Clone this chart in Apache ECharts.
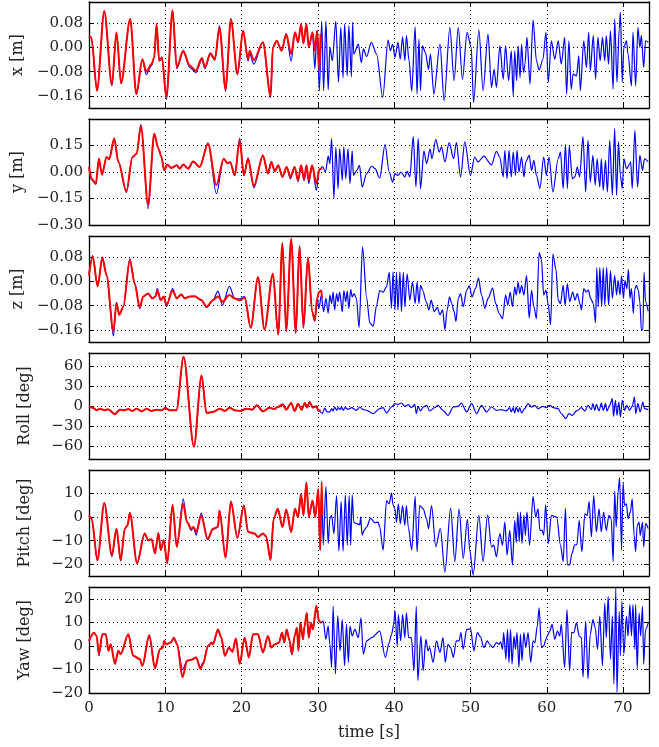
<!DOCTYPE html>
<html>
<head>
<meta charset="utf-8">
<script src="https://cdn.jsdelivr.net/npm/echarts@6/dist/echarts.min.js"></script>
<style>
html,body{margin:0;padding:0;background:#fff;}
#chart{width:659px;height:747px;}
</style>
</head>
<body>
<div id="chart"></div>
<script>
// ---- tick labels ----
const timeTicks = [0, 10, 20, 30, 40, 50, 60, 70];
const xTicks = [-0.16, -0.08, 0, 0.08];
const yTicks = [-0.30, -0.15, 0, 0.15];
const zTicks = [-0.16, -0.08, 0, 0.08];
const rollTicks = [-60, -30, 0, 30, 60];
const pitchTicks = [-20, -10, 0, 10];
const yawTicks = [-20, -10, 0, 10, 20];
const axisNames = ['x [m]', 'y [m]', 'z [m]', 'Roll [deg]', 'Pitch [deg]', 'Yaw [deg]'];

// ---- x [m] ----
const xRed = [[0,0.038],[0.3,0.033],[1.05,-0.143],[2.0,0.12],[3.0,-0.124],[3.6,0.05],[4.2,-0.118],[5.4,0.094],[6.2,-0.154],[7.0,-0.039],[7.5,-0.08],[8.2,-0.055],[8.55,-0.033],[8.85,0.077],[9.2,-0.044],[9.55,-0.033],[10.15,-0.165],[10.95,0.123],[11.5,-0.066],[12.35,-0.011],[13.2,-0.06],[14.0,-0.077],[14.8,-0.035],[15.2,-0.066],[15.9,-0.019],[16.5,-0.039],[17.1,0.066],[17.9,-0.138],[18.6,0.094],[19.45,-0.088],[20.2,0.055],[20.85,-0.039],[21.05,-0.011],[21.6,-0.042],[22.8,0.017],[23.8,-0.16],[24.1,0],[24.6,0.022],[25.25,-0.011],[25.85,0.044],[26.5,-0.022],[27.0,0.05],[27.4,0.017],[27.8,0.077],[28.1,0.013],[28.5,0.077],[28.8,0],[29.3,0.05],[29.6,-0.011],[29.9,0.055],[30.2,-0.077],[30.35,0.044]];
const xBlue = [[0,0.038],[0.3,0.033],[1.05,-0.143],[2.0,0.12],[3.0,-0.126],[3.6,0.05],[4.2,-0.12],[5.4,0.094],[6.2,-0.156],[7.0,-0.039],[7.5,-0.09],[8.2,-0.06],[8.55,-0.033],[8.85,0.077],[9.2,-0.044],[9.55,-0.033],[10.15,-0.172],[10.95,0.123],[11.5,-0.07],[12.35,-0.015],[13.2,-0.066],[14.0,-0.083],[14.8,-0.04],[15.2,-0.07],[15.9,-0.022],[16.5,-0.042],[17.1,0.072],[17.9,-0.145],[18.6,0.094],[19.45,-0.09],[20.2,0.055],[20.85,-0.045],[21.05,-0.02],[21.6,-0.055],[22.8,0.017],[23.8,-0.166],[24.1,0],[24.6,0.022],[25.25,-0.011],[25.85,0.044],[26.5,-0.045],[27.0,0.05],[27.4,0.017],[27.8,0.077],[28.1,0.013],[28.5,0.077],[28.8,0],[29.3,0.05],[29.6,-0.07],[29.9,0.057],[30.2,-0.143],[30.5,0.086],[30.75,-0.143],[31.05,0.086],[31.35,-0.14],[31.57,0],[31.9,-0.044],[32.35,0.086],[32.7,-0.115],[33.0,0.066],[33.3,-0.1],[33.5,0.077],[33.85,-0.094],[34.05,0.072],[34.4,-0.097],[34.55,0.083],[34.7,-0.022],[35.3,0.011],[35.7,-0.05],[35.95,-0.005],[36.4,-0.03],[37.0,0.017],[37.7,-0.022],[38.5,-0.165],[39.2,0.024],[39.5,-0.011],[39.8,0.011],[40.1,-0.033],[40.5,0.017],[40.8,-0.039],[41.1,0.035],[41.4,-0.044],[41.6,0.039],[41.95,-0.044],[42.3,-0.145],[42.75,0.068],[43.0,-0.154],[43.25,0.028],[43.45,-0.143],[43.7,0.005],[44.1,-0.017],[44.5,-0.072],[44.75,-0.022],[45.2,-0.154],[46.0,0.011],[46.55,-0.176],[47.3,0.066],[47.85,-0.11],[48.4,0.066],[48.95,-0.105],[49.55,0.05],[50.1,0],[50.4,-0.182],[51.1,0.058],[51.65,-0.143],[52.3,0.044],[52.75,-0.132],[53.1,-0.072],[53.4,-0.132],[53.85,0.005],[54.3,-0.105],[54.6,0.005],[55.0,-0.11],[55.35,-0.011],[55.6,-0.16],[55.8,-0.011],[56.05,-0.11],[56.25,0.005],[56.5,-0.099],[56.7,0.011],[56.95,-0.083],[57.15,-0.055],[57.4,0.033],[57.8,-0.121],[58.2,0.09],[58.65,-0.044],[59.0,-0.075],[59.5,-0.039],[59.9,0.05],[60.2,-0.115],[60.6,0.022],[61.05,-0.039],[61.5,0.022],[61.9,-0.055],[62.35,0.033],[62.6,-0.154],[62.9,0.022],[63.2,-0.138],[63.45,-0.088],[63.9,-0.094],[64.2,-0.028],[64.4,-0.143],[64.85,0.022],[65.2,-0.066],[65.5,0.05],[65.7,-0.077],[66.1,0.039],[66.4,-0.105],[66.7,0.033],[67.0,-0.044],[67.3,0.033],[67.6,-0.044],[67.8,0.039],[68.1,-0.055],[68.35,0.055],[68.7,-0.138],[68.9,0.094],[69.2,-0.115],[69.5,0.061],[69.65,0.116],[69.9,-0.115],[70.1,0],[70.45,0.022],[70.65,-0.022],[71.1,-0.127],[71.3,0.05],[71.65,-0.127],[71.95,0.066],[72.2,0],[72.4,0.039],[72.7,-0.066],[72.95,0.022],[73.3,0.017]];

// ---- y [m] ----
const yRed = [[0,0.028],[0.35,-0.038],[0.9,-0.066],[1.3,0.075],[1.7,-0.015],[2.3,0.085],[2.65,0.072],[3.3,0.19],[3.85,0.057],[4.9,-0.109],[5.7,0.085],[6.25,0.104],[6.8,0.26],[7.75,-0.185],[8.55,0.217],[9.1,0.132],[9.5,0.085],[9.85,0.009],[10.25,0.042],[10.8,0.023],[11.5,0.038],[11.9,0.019],[12.35,0.042],[13.0,0.019],[13.65,0.06],[14.5,0.028],[15.6,0.16],[16.7,-0.075],[17.65,0.075],[18.15,0.05],[18.5,0.057],[19.1,-0.019],[19.75,0.18],[20.3,-0.019],[20.85,0.075],[21.6,-0.08],[22.8,0.094],[23.45,-0.009],[23.9,0.057],[24.35,0.004],[24.8,0.038],[25.35,-0.028],[25.9,0.028],[26.4,-0.028],[26.95,0.028],[27.4,-0.047],[27.8,0.038],[28.2,-0.042],[28.5,0.038],[28.8,-0.047],[29.25,0.038],[29.8,-0.066],[30.2,0.015],[30.55,0.019]];
const yBlue = [[0,0.028],[0.35,-0.045],[0.9,-0.07],[1.3,0.075],[1.7,-0.015],[2.3,0.085],[2.65,0.072],[3.3,0.19],[3.85,0.057],[4.9,-0.115],[5.7,0.085],[6.25,0.104],[6.8,0.27],[7.75,-0.208],[8.55,0.217],[9.1,0.132],[9.5,0.085],[9.85,0.009],[10.25,0.042],[10.8,0.023],[11.5,0.038],[11.9,0.019],[12.35,0.042],[13.0,0.019],[13.65,0.06],[14.5,0.028],[15.6,0.165],[16.7,-0.123],[17.65,0.075],[18.15,0.05],[18.5,0.057],[19.1,-0.019],[19.75,0.19],[20.3,-0.019],[20.85,0.08],[21.6,-0.09],[22.8,0.094],[23.45,-0.009],[23.9,0.057],[24.35,0.004],[24.8,0.038],[25.35,-0.028],[25.9,0.028],[26.4,-0.038],[26.95,0.028],[27.4,-0.055],[27.8,0.038],[28.2,-0.05],[28.5,0.038],[28.8,-0.065],[29.25,0.038],[29.8,-0.104],[30.2,0.015],[30.6,0.03],[31.0,0.0],[31.35,0.09],[31.57,0.047],[31.8,0.19],[32.1,-0.15],[32.35,0.14],[32.65,-0.094],[32.85,0.132],[33.2,-0.047],[33.4,0.142],[33.65,-0.038],[33.95,0.132],[34.2,-0.066],[34.5,0.12],[34.65,-0.019],[35.1,0.009],[35.45,0.038],[35.8,-0.085],[36.4,-0.009],[37.05,0.034],[37.5,0.019],[38.1,-0.034],[38.8,0.155],[39.35,0],[39.8,-0.057],[40.1,-0.009],[40.5,-0.019],[40.9,0],[41.4,-0.028],[41.7,0.004],[42.05,-0.028],[42.5,0.2],[42.85,-0.085],[43.15,0.19],[43.45,-0.094],[43.9,0.12],[44.25,0.047],[44.7,0.13],[44.95,0.075],[45.45,0.185],[45.9,0.113],[46.2,0.142],[46.65,0.057],[47.2,0.166],[47.8,0.075],[48.15,0.166],[48.7,-0.028],[49.25,0.17],[50.0,-0.019],[50.55,0.085],[51.0,0.057],[51.75,0.09],[52.75,0.04],[53.4,0.117],[53.85,0.085],[54.3,-0.028],[54.5,0.123],[54.8,-0.038],[55.05,0.123],[55.35,-0.028],[55.6,0.113],[55.9,-0.019],[56.1,0.123],[56.35,0],[56.7,0.085],[57.0,-0.028],[57.25,0.057],[57.7,0.094],[58.0,0.009],[58.3,0.066],[58.65,-0.019],[59.1,-0.094],[59.6,0.085],[59.95,-0.019],[60.3,0.085],[60.8,-0.113],[61.5,0.075],[61.8,0.113],[62.15,-0.094],[62.45,0.155],[62.7,-0.094],[62.95,0.15],[63.35,-0.038],[63.7,-0.028],[64.0,0.028],[64.3,-0.028],[64.75,0.2],[65.1,-0.113],[65.4,0.18],[65.7,-0.057],[66.05,0.094],[66.35,-0.075],[66.6,0.075],[66.95,-0.085],[67.15,0.075],[67.4,-0.104],[67.7,0.066],[67.95,-0.113],[68.25,0.18],[68.6,-0.132],[68.9,0.245],[69.15,-0.132],[69.4,0.17],[69.65,-0.019],[69.9,-0.094],[70.1,0.075],[70.45,0.019],[70.9,0.047],[71.0,0.057],[71.2,-0.094],[71.55,0.236],[71.9,-0.085],[72.2,0.094],[72.55,0.009],[72.8,0.075],[73.3,0.057]];

// ---- z [m] ----
const zRed = [[0,0.02],[0.48,0.082],[1.13,-0.016],[1.75,0.079],[2.3,0.02],[3.2,-0.164],[3.6,-0.072],[3.97,-0.11],[4.5,-0.083],[5.35,0.071],[6.0,-0.008],[6.65,-0.086],[7.1,-0.05],[7.75,-0.04],[8.3,-0.056],[8.7,-0.05],[8.95,-0.03],[9.4,-0.062],[9.8,-0.05],[10.15,-0.078],[10.95,-0.03],[11.5,-0.056],[12.1,-0.043],[12.55,-0.056],[13.2,-0.05],[13.85,-0.049],[14.75,-0.062],[15.4,-0.084],[16.25,-0.062],[16.9,-0.05],[17.5,-0.067],[18.4,-0.045],[19.1,-0.056],[19.75,-0.062],[20.4,-0.054],[21.2,-0.153],[22.15,0.014],[23.0,-0.159],[24.1,0.025],[24.8,-0.175],[25.35,0.127],[25.85,-0.164],[26.5,0.14],[27.1,-0.17],[27.6,0.117],[28.1,-0.153],[28.7,0.079],[29.25,-0.1],[29.6,-0.13],[29.9,-0.056],[30.15,-0.035],[30.45,-0.03],[30.55,-0.056]];
const zBlue = [[0,0.02],[0.48,0.085],[1.13,-0.016],[1.75,0.079],[2.3,0.02],[3.2,-0.18],[3.6,-0.068],[3.97,-0.11],[4.5,-0.083],[5.35,0.075],[6.0,-0.008],[6.65,-0.09],[7.1,-0.05],[7.75,-0.04],[8.3,-0.056],[8.7,-0.05],[8.95,-0.024],[9.4,-0.062],[9.8,-0.05],[10.15,-0.083],[10.95,-0.024],[11.5,-0.056],[12.1,-0.043],[12.55,-0.056],[13.2,-0.05],[13.85,-0.049],[14.75,-0.062],[15.4,-0.086],[16.25,-0.062],[16.9,-0.032],[17.5,-0.078],[18.4,-0.016],[19.1,-0.056],[19.75,-0.058],[20.4,-0.05],[21.2,-0.153],[22.15,0.014],[23.0,-0.159],[24.1,0.025],[24.8,-0.175],[25.35,0.127],[25.85,-0.164],[26.5,0.14],[27.1,-0.17],[27.6,0.117],[28.1,-0.153],[28.7,0.079],[29.25,-0.1],[29.6,-0.13],[29.9,-0.056],[30.15,-0.089],[30.45,-0.045],[30.75,-0.1],[31.05,-0.056],[31.35,-0.105],[31.57,-0.045],[31.8,-0.073],[32.0,-0.035],[32.2,-0.094],[32.45,-0.04],[32.65,-0.067],[32.85,-0.035],[33.2,-0.1],[33.4,-0.03],[33.65,-0.067],[33.85,-0.032],[34.05,-0.089],[34.3,-0.026],[34.5,-0.051],[34.75,-0.04],[35.05,-0.056],[35.4,-0.153],[35.85,0.114],[36.4,-0.056],[36.8,-0.137],[37.25,-0.148],[37.7,-0.078],[38.1,-0.03],[38.55,-0.035],[39.0,-0.018],[39.35,0.03],[39.65,-0.088],[39.85,0.032],[40.1,-0.094],[40.3,0.03],[40.5,-0.094],[40.75,0.032],[40.95,-0.099],[41.2,0.03],[41.4,-0.083],[41.7,0.025],[42.05,-0.062],[42.4,-0.002],[42.75,-0.073],[43.0,-0.002],[43.25,-0.073],[43.45,-0.013],[43.75,-0.03],[44.2,-0.067],[44.55,-0.094],[44.85,-0.062],[45.25,-0.1],[45.65,-0.086],[46.0,-0.11],[46.35,-0.094],[46.65,-0.159],[46.95,-0.094],[47.25,-0.051],[47.55,-0.073],[47.85,-0.1],[48.1,-0.132],[48.4,-0.056],[48.7,-0.04],[49.05,-0.083],[49.5,-0.029],[49.85,-0.015],[50.2,-0.051],[50.65,-0.024],[51.05,0.011],[51.45,-0.045],[51.9,-0.089],[52.3,-0.056],[52.9,-0.022],[53.3,-0.073],[53.75,-0.105],[54.2,-0.123],[54.6,-0.045],[54.9,-0.078],[55.2,-0.035],[55.5,-0.083],[55.8,-0.018],[56.0,-0.045],[56.25,-0.002],[56.45,-0.04],[56.7,-0.013],[57.0,-0.045],[57.35,0.019],[57.7,-0.121],[58.0,-0.029],[58.3,-0.083],[58.65,-0.123],[59.0,0.095],[59.3,0.073],[59.6,-0.045],[59.9,-0.029],[60.2,-0.078],[60.5,-0.143],[60.8,0.09],[61.2,0.041],[61.5,-0.062],[61.8,-0.073],[62.15,-0.013],[62.4,-0.078],[62.7,-0.008],[63.0,-0.067],[63.4,-0.035],[63.7,-0.062],[64.0,-0.04],[64.35,-0.073],[64.55,-0.094],[64.85,-0.024],[65.15,-0.035],[65.45,-0.029],[65.75,-0.056],[66.1,-0.073],[66.4,-0.137],[66.55,0.046],[66.75,-0.083],[66.95,0.046],[67.2,-0.083],[67.4,0.046],[67.6,-0.078],[67.85,0.046],[68.1,-0.078],[68.35,0.035],[68.6,-0.056],[68.9,0.019],[69.15,-0.045],[69.35,0.003],[69.6,-0.045],[69.8,0.019],[70.05,-0.056],[70.25,0.003],[70.5,-0.024],[70.7,0.04],[70.9,-0.056],[71.1,-0.024],[71.35,-0.105],[71.55,-0.024],[71.75,-0.013],[72.0,-0.029],[72.2,-0.067],[72.4,-0.159],[72.6,-0.159],[72.75,0.03],[72.95,-0.067],[73.3,-0.099]];

// ---- Roll [deg] ----
const rollRed = [[0,-1.5],[0.5,-2.5],[1.0,-6.5],[1.45,-4],[2.0,-6.5],[2.5,-5],[3.4,-12.5],[4.05,-5.5],[4.6,-6.5],[5.15,-4.5],[5.7,-7.5],[6.25,-4],[6.9,-8],[7.55,-4],[8.2,-7.5],[8.85,-5.5],[9.5,-6.5],[10.0,-3],[10.6,-6.5],[11.45,-6.5],[12.4,74.5],[13.75,-61.5],[14.75,46],[15.4,-10.5],[16.25,-9],[17.15,-4],[17.8,-7.5],[18.45,-2.5],[19.1,-6.5],[19.85,-7.5],[20.6,-4],[21.4,-5.5],[22.0,1],[22.8,-8],[23.65,-2.5],[24.3,-4.5],[24.75,-1.5],[25.4,2.5],[25.85,-5.5],[26.5,4.5],[26.95,-7.5],[27.4,3.5],[27.85,-5.5],[28.3,4.5],[28.6,-2.5],[28.9,6],[29.35,-2.5],[29.8,-0.5],[30.1,-7.5],[30.35,-5.5]];
const rollBlue = [[0,-1.5],[0.5,-2.5],[1.0,-6],[1.45,-4],[2.0,-6.5],[2.5,-5],[3.4,-11.5],[4.05,-5.5],[4.6,-6.5],[5.15,-4.5],[5.7,-7.5],[6.25,-4],[6.9,-8],[7.55,-4],[8.2,-7.5],[8.85,-5.5],[9.5,-6.5],[10.0,-3],[10.6,-6.5],[11.45,-6.5],[12.4,74.5],[13.75,-61.5],[14.75,46],[15.4,-10.5],[16.25,-9],[17.15,-4],[17.8,-7.5],[18.45,-2.5],[19.1,-6.5],[19.85,-7.5],[20.6,-4],[21.4,-5.5],[22.0,1],[22.8,-8],[23.65,-2.5],[24.3,-4.5],[24.75,-1.5],[25.4,2.5],[25.85,-5.5],[26.5,4.5],[26.95,-7.5],[27.4,3.5],[27.85,-5.5],[28.3,4.5],[28.6,-2.5],[28.9,6],[29.35,-2.5],[29.8,-0.5],[30.1,-7.5],[30.6,-11],[30.9,-3],[31.2,-9],[31.57,-9],[31.8,-4],[32.0,-7.5],[32.2,-1.5],[32.45,-6.5],[32.65,-2.5],[32.9,-5.5],[33.1,-1.5],[33.3,-6.5],[33.55,-2.5],[34.0,-5],[34.4,-2.5],[35.05,-6.5],[35.5,-1.5],[35.95,-5.5],[36.4,-6.5],[37.25,-11.5],[38.1,-4],[38.55,-2.5],[39.0,-10.5],[39.65,-1.5],[40.1,3.5],[40.5,2.5],[40.95,4.5],[41.4,-0.5],[41.85,2],[42.25,-2.5],[42.7,2.5],[42.9,-11.5],[43.15,-0.5],[43.45,-7.5],[43.8,-1.5],[44.25,1],[44.65,-7.5],[45.3,-2.5],[45.75,1],[46.4,-6.5],[47.05,-14],[47.75,-1.5],[48.4,-0.5],[48.8,4.5],[49.5,-9],[50.15,3.5],[50.8,-11.5],[51.45,1],[52.1,-9],[52.75,-1.5],[53.4,-6.5],[54.05,-5.5],[54.7,-7.5],[55.15,-2.5],[55.35,-9],[55.6,-2.5],[55.8,-10.5],[56.0,-1.5],[56.25,-9],[56.45,-2.5],[56.7,-10.5],[57.1,-4],[57.55,3.5],[58.0,-1.5],[58.4,1],[58.85,-4],[59.5,-0.5],[59.95,-2.5],[60.4,1],[60.85,-2.5],[61.5,-4],[61.9,-11.5],[62.5,-19],[62.9,-11.5],[63.35,-14],[63.9,-7.5],[64.55,-2.5],[65.0,-7.5],[65.4,1],[65.85,-5.5],[66.05,3.5],[66.3,-6.5],[66.5,2.5],[66.85,-7.5],[67.15,4.5],[67.4,-6.5],[67.7,3.5],[67.9,-7.5],[68.25,1],[68.6,11],[68.75,-15.5],[69.0,8.5],[69.2,-14],[69.45,6],[69.65,-16.5],[69.9,8.5],[70.2,-6.5],[70.5,1],[70.85,-6.5],[71.2,-0.5],[71.5,13.5],[71.65,-11.5],[71.95,3.5],[72.25,-9],[72.6,6],[72.8,-4],[73.3,-5.5]];

// ---- Pitch [deg] ----
const pitchRed = [[0,0.7],[0.35,-0.7],[1.1,-18.2],[2.0,6],[3.0,-16.1],[3.6,-4.9],[4.15,-18.2],[4.7,-4.9],[5.05,-3.5],[5.35,1.8],[6.3,-19.6],[7.3,-7],[7.75,-9.8],[8.2,-9.4],[8.65,-15.4],[9.1,-6.7],[9.4,-14],[9.8,-9.8],[10.25,-19.6],[10.95,5.2],[11.5,-12.6],[12.35,5.6],[12.85,-2.1],[13.4,-4.9],[13.7,-4.2],[14.05,-6.3],[14.7,0.7],[15.55,-9.4],[16.25,-4.9],[16.9,-4.2],[17.1,2.8],[17.9,-17.2],[18.6,6.6],[19.45,-8.8],[20.3,4.9],[20.85,-6.3],[21.7,-7],[22.15,-8.4],[22.8,-7],[23.2,-8],[23.8,-18.2],[24.2,-0.7],[24.75,3.5],[25.35,-4.2],[25.85,3.2],[26.5,-6.3],[27.0,3.5],[27.4,0],[27.8,9.8],[28.1,0.7],[28.5,14.7],[28.8,0],[29.3,7],[29.65,0],[30.05,11.9],[30.3,-14],[30.5,15],[30.6,0.7]];
const pitchBlue = [[0,0.7],[0.35,-0.7],[1.1,-18.6],[2.0,6],[3.0,-16.8],[3.6,-4.9],[4.15,-18.6],[4.7,-4.9],[5.05,-3.5],[5.35,1.8],[6.3,-19.6],[7.3,-7],[7.75,-9.8],[8.2,-9.4],[8.65,-15.4],[9.1,-6.7],[9.4,-14],[9.8,-9.8],[10.25,-19.6],[10.95,5.2],[11.5,-12.6],[12.35,7.7],[12.85,-2.1],[13.4,-5.6],[13.7,-4.2],[14.05,-7.7],[14.7,1.7],[15.55,-9.4],[16.25,-5.3],[16.9,-4.2],[17.1,2.8],[17.9,-17.2],[18.6,6.6],[19.45,-8.8],[20.3,4.9],[20.85,-6.3],[21.7,-7],[22.15,-8.4],[22.8,-7],[23.2,-8.4],[23.8,-18.2],[24.2,-0.7],[24.75,3.5],[25.35,-4.2],[25.85,3.2],[26.5,-6.3],[27.0,3.5],[27.4,0],[27.8,9.8],[28.1,0.7],[28.5,14.7],[28.8,0],[29.3,7],[29.65,0],[30.05,11.9],[30.3,-14],[30.5,13],[30.7,-11.9],[31.05,13],[31.35,-11.2],[31.57,-0.7],[31.8,0.7],[32.1,-7],[32.45,9.1],[32.75,-14.4],[33.05,6.6],[33.3,-14.4],[33.6,9.4],[33.85,-11.9],[34.1,9.1],[34.3,-11.9],[34.5,9.4],[34.7,-2.1],[35.05,-2.8],[35.5,-3.2],[35.6,0],[35.8,-7.7],[36.05,-5.6],[36.4,-4.2],[36.9,-0.4],[37.45,-2.4],[37.9,-2.1],[38.1,-4.2],[38.55,-14],[39.0,7],[39.35,5.6],[39.65,10.2],[39.85,5.2],[40.1,3.5],[40.3,-2.1],[40.55,5.6],[40.8,-2.8],[41.1,4.9],[41.4,-3.5],[41.6,4.9],[41.85,-4.2],[42.3,-14],[42.75,8.8],[43.0,-14.7],[43.35,4.9],[43.8,3.5],[44.25,-0.7],[44.5,-4.9],[44.9,4.9],[45.45,-12.6],[46.05,-4.9],[46.65,-23.4],[47.4,3.8],[47.95,-18.9],[48.5,3.5],[49.05,-17.5],[49.6,-1],[49.9,-14],[50.35,-24.5],[51.1,0.7],[51.65,-18.9],[52.25,1],[52.75,-12.6],[53.05,-11.9],[53.4,-16.8],[53.85,-7],[54.2,-11.9],[54.5,-2.1],[54.8,-16.1],[55.15,-5.6],[55.5,-20.3],[55.8,-1.4],[56.0,-10.8],[56.2,2.1],[56.4,-10.5],[56.55,2.1],[56.75,-11.2],[57.0,0.7],[57.2,-7.7],[57.4,2.1],[57.75,-11.9],[58.2,8.8],[58.55,0],[58.85,3.5],[59.1,-5.6],[59.4,-5.6],[59.6,-7.7],[59.85,5.2],[60.2,-11.2],[60.6,0.7],[61.3,0],[61.8,-11.9],[62.15,-18.9],[62.45,3.8],[62.7,-20.3],[63.0,-20.3],[63.3,-15.4],[63.65,-11.9],[63.95,-11.6],[64.25,-1.4],[64.6,-14.7],[65.0,1.4],[65.3,0.7],[65.55,6.6],[65.85,-8.4],[66.15,9.1],[66.5,-6.3],[66.85,3.5],[67.15,-6.3],[67.45,2.1],[67.8,-5.6],[68.15,0.7],[68.45,-0.7],[68.7,-18.9],[68.9,11.2],[69.1,-4.2],[69.35,10.8],[69.55,16.8],[69.8,-14],[70.0,14.7],[70.2,4.9],[70.45,5.6],[70.65,-0.7],[70.95,2.1],[71.2,7.7],[71.45,-7.7],[71.65,-14.7],[71.85,-3.5],[72.1,-2.1],[72.25,-7.7],[72.55,-2.1],[72.7,-12.6],[72.95,-2.8],[73.3,-4.9]];

// ---- Yaw [deg] ----
const yawRed = [[0,2.1],[0.65,5.6],[1.0,4.2],[1.3,-3.5],[1.75,4.9],[2.2,4.9],[2.55,-2.1],[2.85,0.7],[3.4,-7.7],[3.85,-2.1],[4.15,-3.5],[5.15,4.9],[5.8,-4.2],[6.65,-5.6],[7.0,-8.4],[7.9,4.5],[8.65,-9.5],[9.3,-1.4],[9.7,-0.7],[9.85,2.1],[10.15,0.7],[10.45,1.1],[10.8,1.7],[11.1,3.5],[11.55,0.7],[12.25,-13.3],[12.85,-6.3],[13.4,-5.9],[14.05,-4.9],[14.6,-9.8],[14.95,-7.7],[15.6,0],[15.9,0.7],[16.05,1.4],[16.25,0.7],[16.9,7],[17.35,3.5],[17.8,-4.2],[18.35,-0.7],[18.8,-2.5],[19.25,3.1],[19.75,-7.7],[20.4,3.5],[20.95,-4.9],[21.5,4.9],[22.15,4.9],[22.8,-2.8],[23.45,4.2],[23.9,-0.7],[24.35,0.7],[24.9,1.4],[25.3,5.6],[25.6,1.4],[25.9,7],[26.3,2.1],[26.6,-3.5],[26.95,4.2],[27.25,7.7],[27.45,-2.1],[27.7,9.8],[28.05,2.8],[28.25,8.4],[28.55,14],[28.8,3.5],[29.1,9.8],[29.35,7],[29.8,17],[30.15,10.5],[30.45,9.8]];
const yawBlue = [[0,2.1],[0.65,5.6],[1.0,4.2],[1.3,-4.2],[1.75,4.9],[2.2,4.9],[2.55,-2.1],[2.85,0.7],[3.4,-7.2],[3.85,-2.1],[4.15,-3.5],[5.15,4.9],[5.8,-4.2],[6.65,-5.6],[7.0,-8.4],[7.9,4.5],[8.65,-9.5],[9.3,-1.4],[9.7,-0.7],[9.85,2.1],[10.15,0.7],[10.45,1.1],[10.8,1.7],[11.1,3.5],[11.55,0.7],[12.25,-10],[12.85,-6.3],[13.4,-5.9],[14.05,-4.9],[14.6,-9],[14.95,-7],[15.6,0],[15.9,0.7],[16.05,1.4],[16.25,0.7],[16.9,6.5],[17.35,3.5],[17.8,-4.2],[18.35,-0.7],[18.8,-2.5],[19.25,3.1],[19.75,-7.2],[20.4,3.5],[20.95,-4.9],[21.5,4.9],[22.15,4.9],[22.8,-2.8],[23.45,4.2],[23.9,-0.7],[24.35,0.7],[24.9,1.4],[25.3,5.6],[25.6,1.4],[25.9,7],[26.3,2.1],[26.6,-3.8],[26.95,4.2],[27.25,7.7],[27.45,-2.1],[27.7,9.8],[28.05,2.8],[28.25,8.4],[28.55,14],[28.8,3.5],[29.1,9.8],[29.35,7],[29.8,16],[30.15,10.5],[30.45,9.8],[30.7,10.5],[31.05,2.8],[31.35,8.4],[31.57,0.7],[31.8,-9.1],[32.0,16.8],[32.3,-11.9],[32.6,12.9],[32.9,-2.1],[33.2,11.2],[33.5,-8.4],[33.75,9.1],[34.0,-7],[34.2,8.4],[34.5,4.2],[34.85,7],[35.3,3.5],[35.65,11.9],[35.95,-3.5],[36.4,2.1],[37.05,3.5],[38.1,6.3],[38.85,-4.9],[39.35,1.4],[39.65,4.9],[39.95,9.1],[40.1,15.1],[40.4,0],[40.55,13.3],[40.85,2.1],[41.1,13.3],[41.4,3.5],[41.6,14],[41.9,3.5],[42.25,3.5],[42.6,-10.5],[42.9,16.8],[43.1,-14.7],[43.5,4.2],[43.8,-10.5],[44.15,2.8],[44.45,-2.1],[44.65,-0.7],[45.1,-7],[45.55,2.1],[46.0,-2.8],[46.4,3.5],[46.7,-7],[47.05,0.7],[47.4,-0.7],[47.75,-4.9],[48.15,2.1],[48.5,2.1],[48.75,5.6],[49.05,-1.4],[49.5,7],[49.8,7],[50.0,7.3],[50.45,-2.1],[50.9,5.6],[51.3,3.9],[51.75,-0.7],[52.2,2.1],[52.5,0.7],[52.95,-0.7],[53.4,1.4],[53.75,0.7],[53.95,1.7],[54.2,-1.4],[54.35,5.6],[54.65,-5.6],[54.85,7],[55.05,-7],[55.25,7],[55.45,-7.7],[55.7,4.2],[55.9,-1.4],[56.1,5.6],[56.35,-9.1],[56.55,4.9],[56.75,-6.3],[57.0,5.6],[57.25,-0.7],[57.55,5.6],[57.9,-7],[58.2,2.1],[58.45,1.4],[58.75,8.4],[59.0,16.1],[59.3,-0.7],[59.6,0],[59.9,2.8],[60.05,4.2],[60.4,6.3],[60.7,9.1],[61.05,2.8],[61.4,6.3],[61.7,4.2],[61.9,9.1],[62.35,-9.1],[62.65,15.4],[63.0,-10.5],[63.25,5.6],[63.55,5.6],[63.9,9.8],[64.25,4.2],[64.55,3.5],[64.75,-13.3],[65.1,10.5],[65.4,-14],[65.7,4.9],[66.05,11.2],[66.35,7.7],[66.65,-1.4],[66.95,12.6],[67.3,-8.4],[67.6,18.2],[67.8,3.5],[68.05,21],[68.35,-5.6],[68.6,12.6],[68.8,-16.1],[69.05,24.5],[69.2,-19.6],[69.5,14.7],[69.65,-4.2],[69.85,18.9],[70.1,-3.5],[70.45,12.6],[70.65,4.2],[70.9,17.5],[71.1,4.2],[71.3,17.5],[71.55,-1.4],[71.65,17.5],[71.85,-9.8],[72.1,14],[72.3,4.2],[72.55,16.8],[72.7,-7.7],[72.95,7],[73.3,9.8]];

// ---- build chart ----
const FONT = 'DejaVu Serif';
const panels = [
  {blue: xBlue, red: xRed, min: -0.2, max: 0.15, ticks: xTicks, dec: 2},
  {blue: yBlue, red: yRed, min: -0.3, max: 0.3, ticks: yTicks, dec: 2},
  {blue: zBlue, red: zRed, min: -0.2, max: 0.15, ticks: zTicks, dec: 2},
  {blue: rollBlue, red: rollRed, min: -80, max: 80, ticks: rollTicks, dec: 0},
  {blue: pitchBlue, red: pitchRed, min: -25, max: 20, ticks: pitchTicks, dec: 0},
  {blue: yawBlue, red: yawRed, min: -20, max: 25, ticks: yawTicks, dec: 0}
];
const TMAX = 73.4;
const grids = [], xAxes = [], yAxes = [], series = [];
const axisLine = {show: true, onZero: false, lineStyle: {color: '#000', width: 1.3}};
const dotted = {show: true, lineStyle: {color: '#000', width: 1, type: [1, 3]}};
function fmt(dec) {
  return function (v) {
    const s = Math.abs(v).toFixed(dec);
    return (v < -1e-9 ? '\u2212' : '') + s;
  };
}
panels.forEach(function (p, i) {
  const top = 2 + i * 117;
  grids.push({left: 89, right: 10, top: top, height: 106});
  const last = i === panels.length - 1;
  xAxes.push({
    type: 'value', gridIndex: i, position: 'bottom', min: 0, max: TMAX,
    axisLine: axisLine,
    axisTick: {show: true, inside: true, length: 5, customValues: timeTicks, lineStyle: {color: '#000', width: 1}},
    axisLabel: {show: last, customValues: timeTicks, color: '#222', fontFamily: FONT, fontSize: 15, margin: 8},
    splitLine: dotted,
    name: last ? 'time [s]' : '', nameLocation: 'middle', nameGap: 32,
    nameTextStyle: {color: '#222', fontFamily: FONT, fontSize: 16}
  });
  xAxes.push({
    type: 'value', gridIndex: i, position: 'top', min: 0, max: TMAX,
    axisLine: axisLine,
    axisTick: {show: true, inside: true, length: 5, customValues: timeTicks, lineStyle: {color: '#000', width: 1}},
    axisLabel: {show: false}, splitLine: {show: false}
  });
  yAxes.push({
    type: 'value', gridIndex: i, position: 'left', min: p.min, max: p.max,
    axisLine: axisLine,
    axisTick: {show: true, inside: true, length: 5, customValues: p.ticks, lineStyle: {color: '#000', width: 1}},
    axisLabel: {show: true, customValues: p.ticks, formatter: fmt(p.dec), color: '#222', fontFamily: FONT, fontSize: 15, margin: 6},
    splitLine: dotted,
    name: axisNames[i], nameLocation: 'middle', nameGap: 56, nameRotate: 90,
    nameTextStyle: {color: '#222', fontFamily: FONT, fontSize: 16}
  });
  yAxes.push({
    type: 'value', gridIndex: i, position: 'right', min: p.min, max: p.max,
    axisLine: axisLine,
    axisTick: {show: true, inside: true, length: 5, customValues: p.ticks, lineStyle: {color: '#000', width: 1}},
    axisLabel: {show: false}, splitLine: {show: false}
  });
  series.push({
    type: 'line', xAxisIndex: 2 * i, yAxisIndex: 2 * i, data: p.blue,
    showSymbol: false, symbol: 'none', smooth: 0.3, smoothMonotone: 'x',
    lineStyle: {color: '#0000ff', width: 1.2}, z: 3
  });
  series.push({
    type: 'line', xAxisIndex: 2 * i, yAxisIndex: 2 * i, data: p.red,
    showSymbol: false, symbol: 'none', smooth: 0.3, smoothMonotone: 'x',
    lineStyle: {color: '#ff0000', width: 2}, z: 4
  });
});
const chart = echarts.init(document.getElementById('chart'), null, {renderer: 'canvas'});
chart.setOption({
  animation: false,
  backgroundColor: '#fff',
  grid: grids, xAxis: xAxes, yAxis: yAxes, series: series
});
</script>
</body>
</html>
